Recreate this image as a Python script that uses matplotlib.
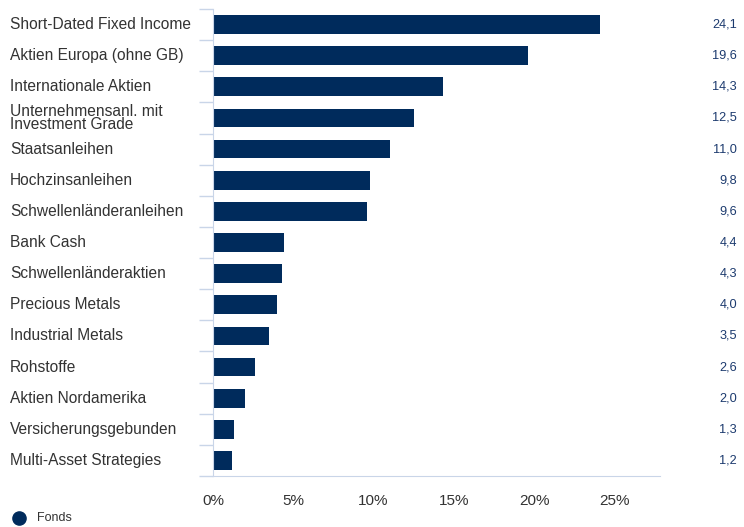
import numpy as np
import matplotlib.pyplot as plt
from matplotlib.transforms import blended_transform_factory

plt.rcParams['font.family'] = ['Liberation Sans', 'DejaVu Sans']

categories = ["Short-Dated Fixed Income", "Aktien Europa (ohne GB)", "Internationale Aktien",
              "Unternehmensanl. mit\nInvestment Grade", "Staatsanleihen", "Hochzinsanleihen",
              "Schwellenländeranleihen", "Bank Cash", "Schwellenländeraktien", "Precious Metals",
              "Industrial Metals", "Rohstoffe", "Aktien Nordamerika", "Versicherungsgebunden",
              "Multi-Asset Strategies"]
values = [24.1, 19.6, 14.3, 12.5, 11.0, 9.8, 9.6, 4.4, 4.3, 4.0, 3.5, 2.6, 2.0, 1.3, 1.2]
xticks = [0, 5, 10, 15, 20, 25]
series_name = "Fonds"

bar_color = "#002b5c"
text_color = "#333333"
value_color = "#1c3a6e"
line_color = "#c9d5e8"

W, H = 744, 527
fig = plt.figure(figsize=(W / 100, H / 100), dpi=100)
ax = fig.add_axes([213 / W, (H - 476) / H, 447 / W, 467 / H])

n = len(categories)
y = np.arange(n)
ax.barh(y, values, height=0.6, color=bar_color, zorder=2)
ax.set_ylim(n - 0.5, -0.5)
ax.set_xlim(0, 447 / 16.06)

for s in ["top", "right"]:
    ax.spines[s].set_visible(False)
ax.spines["left"].set_color(line_color)
ax.spines["bottom"].set_color(line_color)

ax.set_xticks(xticks)
ax.set_xticklabels([f"{t}%" for t in xticks], fontsize=11, color=text_color)
ax.tick_params(axis="x", length=0, pad=13)

# Trennstriche zwischen den Kategorien
ax.set_yticks(np.arange(n + 1) - 0.5)
ax.set_yticklabels([])
ax.tick_params(axis="y", length=10, color=line_color, width=1)

trans = blended_transform_factory(fig.transFigure, ax.transData)
for i, (c, v) in enumerate(zip(categories, values)):
    ax.text(10 / W, i, c, transform=trans, ha="left", va="center",
            fontsize=11.2, color=text_color, linespacing=0.9)
    ax.text(737 / W, i, f"{v:.1f}".replace(".", ","), transform=trans,
            ha="right", va="center", fontsize=9.2, color=value_color)

fig.lines.append(plt.Line2D([19 / W], [1 - 518 / H], transform=fig.transFigure,
                            marker="o", markersize=9.5, color=bar_color, linestyle=""))
fig.text(37 / W, 1 - 518 / H, series_name, ha="left", va="center",
         fontsize=9, color=text_color)

fig.savefig("out.png", dpi=100)
